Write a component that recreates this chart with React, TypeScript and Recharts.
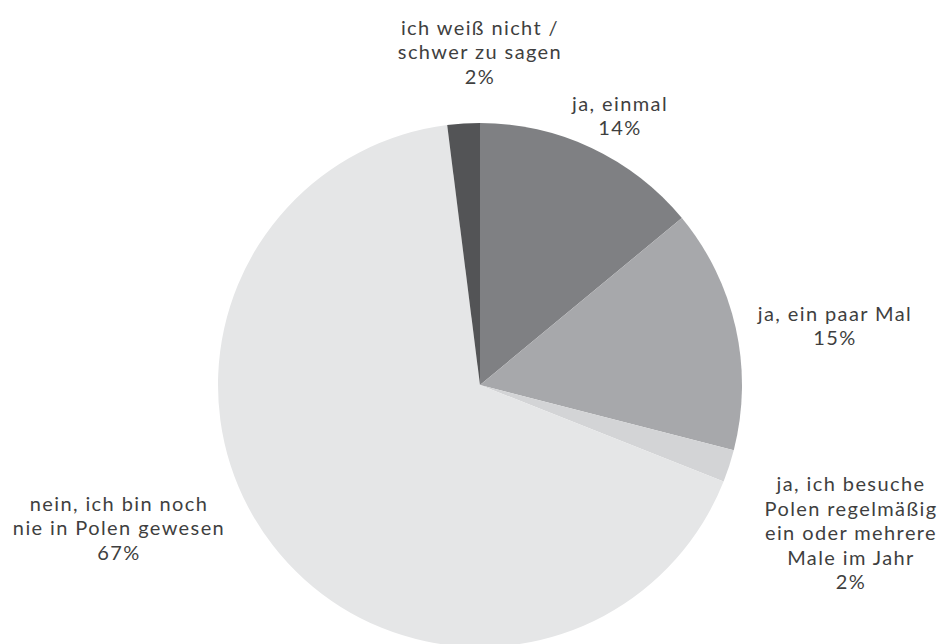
import React from "react";
import { PieChart, Pie, Cell } from "recharts";

const categories = [
  "ja, einmal",
  "ja, ein paar Mal",
  "ja, ich besuche Polen regelmäßig ein oder mehrere Male im Jahr",
  "nein, ich bin noch nie in Polen gewesen",
  "ich weiß nicht / schwer zu sagen",
];
const values = [14, 15, 2, 67, 2];
const labelLines = [
  ["ja, einmal"],
  ["ja, ein paar Mal"],
  ["ja, ich besuche", "Polen regelmäßig", "ein oder mehrere", "Male im Jahr"],
  ["nein, ich bin noch", "nie in Polen gewesen"],
  ["ich weiß nicht /", "schwer zu sagen"],
];
const colors = ["#7f8083", "#a7a8ab", "#d3d4d6", "#e5e6e7", "#535456"];
// label block centre offsets relative to pie centre
const labelOffsets = [
  [140, -270],
  [355, -60],
  [371, 147],
  [-361, 142],
  [0, -334],
];

const data = categories.map((name, i) => ({ name, value: values[i] }));

const LINE_H = 24.5;

const renderLabel = (props: any) => {
  const { cx, cy, index, value } = props;
  const lines = [...labelLines[index], `${value}%`];
  const [ox, oy] = labelOffsets[index];
  const x = cx + ox;
  const yc = cy + oy;
  const y0 = yc - ((lines.length - 1) * LINE_H) / 2;
  return (
    <text
      x={x}
      y={y0}
      textAnchor="middle"
      dominantBaseline="central"
      fill="#3f3f3f"
      fontSize={20}
      letterSpacing={1.4}
      fontFamily="Lato, sans-serif"
      fontWeight={400}
    >
      {lines.map((l, i) => (
        <tspan key={i} x={x} y={y0 + i * LINE_H}>
          {l}
        </tspan>
      ))}
    </text>
  );
};

export default function App() {
  return (
    <div style={{ position: "absolute", left: 0, top: 0, width: 943, height: 644, background: "#fff" }}>
      <PieChart width={943} height={644} margin={{ top: 0, right: 0, bottom: 0, left: 0 }}>
        <Pie
          data={data}
          dataKey="value"
          nameKey="name"
          cx={480}
          cy={385}
          outerRadius={262}
          startAngle={90}
          endAngle={-270}
          stroke="none"
          label={renderLabel}
          labelLine={false}
          isAnimationActive={false}
        >
          {data.map((d, i) => (
            <Cell key={d.name} fill={colors[i]} />
          ))}
        </Pie>
      </PieChart>
    </div>
  );
}
